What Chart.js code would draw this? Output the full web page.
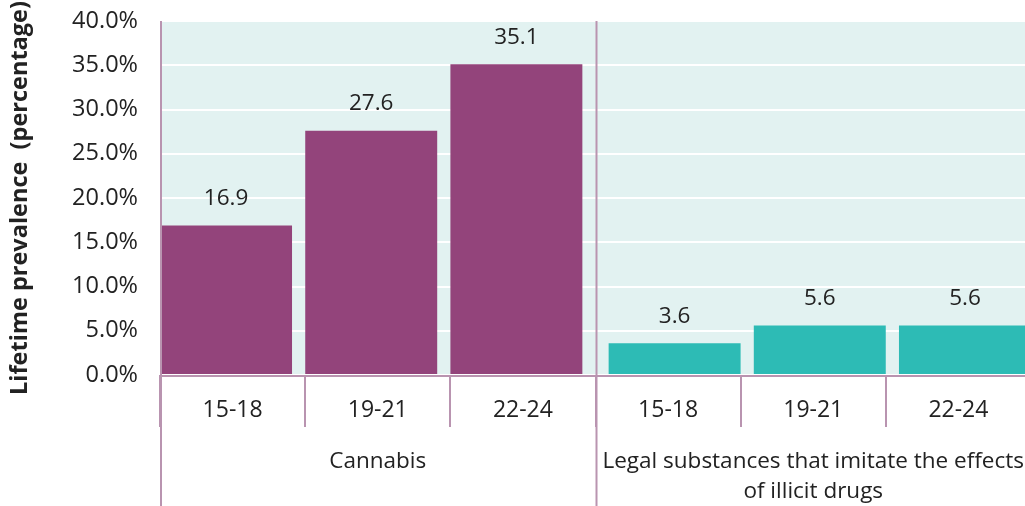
<!DOCTYPE html>
<html>
<head>
<meta charset="utf-8">
<script src="https://cdn.jsdelivr.net/npm/chart.js@4"></script>
<style>
html,body{margin:0;padding:0;background:#fff;overflow:hidden;}
#wrap{width:1031px;height:506px;}
</style>
</head>
<body>
<div id="wrap"><canvas id="c" width="1031" height="506"></canvas></div>
<script>
// ---- data ----
const ageGroups = ['15-18', '19-21', '22-24', '15-18', '19-21', '22-24'];
const substanceGroups = [
  ['Cannabis'],
  ['Legal substances that imitate the effects', 'of illicit drugs']
];
const groupOf = [0, 0, 0, 1, 1, 1];
const prevalence = [16.9, 27.6, 35.1, 3.6, 5.6, 5.6];
const yTicks = [0, 5, 10, 15, 20, 25, 30, 35, 40];
const yTitle = 'Lifetime prevalence  (percentage)';

// ---- style ----
const groupColors = ['#93447b', '#2dbbb5'];
const lineColor = '#b994b0';
const textColor = '#222222';
const FONT = "'Open Sans', 'Noto Sans', sans-serif";

const bgPlugin = {
  id: 'bg',
  beforeDraw(chart) {
    const a = chart.chartArea, ctx = chart.ctx;
    ctx.save();
    ctx.fillStyle = '#e2f2f1';
    ctx.fillRect(a.left, a.top, a.right - a.left, a.bottom - a.top);
    ctx.restore();
  }
};

const shiftPlugin = {
  id: 'shift',
  afterDatasetsUpdate(chart) {
    const x = chart.scales.x;
    const w = (x.right - x.left) / ageGroups.length;
    const meta = chart.getDatasetMeta(0);
    meta.data.forEach((bar, i) => {
      bar.x += (groupOf[i] === 0 ? -0.045 : 0.045) * w;
    });
  }
};

const overlayPlugin = {
  id: 'overlay',
  afterDraw(chart) {
    const ctx = chart.ctx, a = chart.chartArea, x = chart.scales.x;
    const w = (x.right - x.left) / ageGroups.length;
    ctx.save();
    ctx.strokeStyle = lineColor;
    ctx.lineWidth = 2;
    ctx.beginPath();
    ctx.moveTo(a.left, a.bottom + 1);
    ctx.lineTo(a.right, a.bottom + 1);
    ctx.stroke();
    substanceGroups.forEach((lines, g) => {
      const idx = groupOf.indexOf(g);
      const count = groupOf.filter(v => v === g).length;
      const gx = x.left + idx * w;
      ctx.beginPath();
      ctx.moveTo(gx + 1, a.top);
      ctx.lineTo(gx + 1, chart.height);
      ctx.stroke();
      const cx = gx + count * w / 2;
      ctx.fillStyle = textColor;
      ctx.font = "22.5px " + FONT;
      ctx.textAlign = 'center';
      ctx.textBaseline = 'middle';
      lines.forEach((t, li) => ctx.fillText(t, cx, a.bottom + 87 + li * 30));
    });
    const meta = chart.getDatasetMeta(0);
    ctx.font = "22.5px " + FONT;
    ctx.fillStyle = textColor;
    ctx.textAlign = 'center';
    ctx.textBaseline = 'middle';
    meta.data.forEach((bar, i) => {
      ctx.fillText(prevalence[i].toFixed(1), bar.x, bar.y - 27);
    });
    ctx.restore();
  }
};

new Chart(document.getElementById('c'), {
  type: 'bar',
  data: {
    labels: ageGroups,
    datasets: [{
      data: prevalence,
      backgroundColor: groupOf.map(g => groupColors[g]),
      borderWidth: 0,
      barPercentage: 0.909,
      categoryPercentage: 1.0
    }]
  },
  options: {
    responsive: false,
    animation: false,
    events: [],
    layout: { padding: { top: 21, right: 0, left: 0, bottom: 0 } },
    plugins: { legend: { display: false }, tooltip: { enabled: false } },
    scales: {
      x: {
        offset: true,
        grid: {
          offset: true,
          drawOnChartArea: false,
          drawTicks: true,
          tickLength: 52,
          color: lineColor,
          lineWidth: 2
        },
        border: { display: false },
        ticks: {
          color: textColor,
          font: { family: FONT, size: 23 },
          padding: -30,
          maxRotation: 0,
          autoSkip: false
        },
        afterFit(s) { s.height = 131; }
      },
      y: {
        min: 0,
        max: 40,
        afterBuildTicks(s) { s.ticks = yTicks.map(v => ({ value: v })); },
        grid: { color: '#ffffff', lineWidth: 2, drawTicks: true, tickLength: 22, tickColor: 'rgba(0,0,0,0)' },
        border: { display: false },
        ticks: {
          color: textColor,
          font: { family: FONT, size: 23.5 },
          padding: 0,
          callback: v => v.toFixed(1) + '%'
        },
        title: {
          display: true,
          text: yTitle,
          color: textColor,
          font: { family: FONT, size: 23.5, weight: 'bold' },
          padding: { top: 6, bottom: 0 }
        },
        afterFit(s) { s.width = 160; }
      }
    }
  },
  plugins: [bgPlugin, shiftPlugin, overlayPlugin]
});
</script>
</body>
</html>
